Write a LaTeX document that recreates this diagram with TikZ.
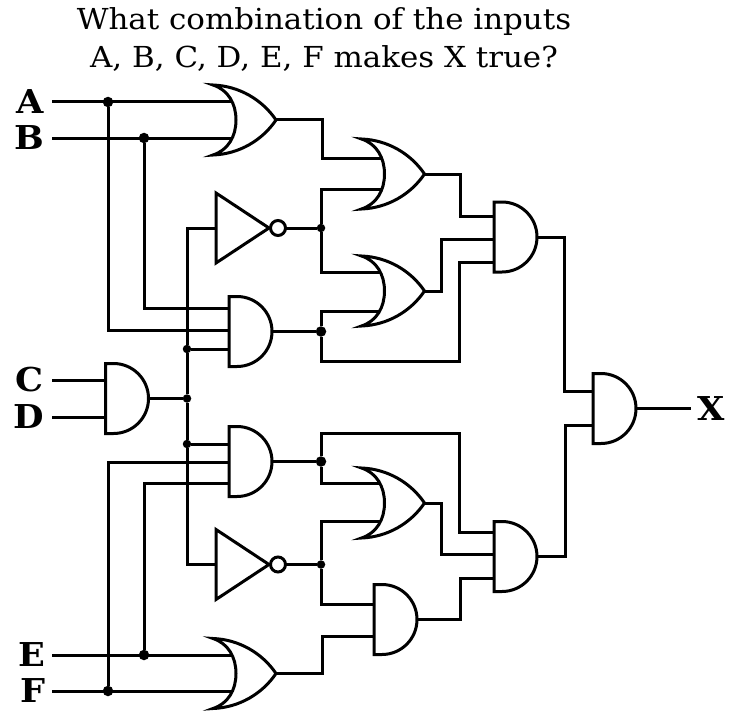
\documentclass[tikz,border=0pt]{standalone}
\usepackage{fontspec}
\setmainfont[FakeStretch=1.07]{DejaVu Serif}
\newfontfamily\labelfont[FakeStretch=1.07]{DejaVu Serif}
\usepackage{tikz}
\usetikzlibrary{backgrounds}

\tikzset{
  wire/.style={line width=3bp},
  gateline/.style={line width=3bp, fill=white},
  junction/.style={circle, fill=black, inner sep=0pt, minimum size=10.5bp},
  smalljunction/.style={circle, fill=black, inner sep=0pt, minimum size=8.5bp},
  inputlabel/.style={anchor=east, font=\labelfont\bfseries\fontsize{33}{33}\selectfont, inner xsep=8bp, inner ysep=0pt},
  andgate/.style={inner sep=0pt, outer sep=0pt, minimum width=43bp, minimum height=70bp,
    append after command={\pgfextra{
      \draw[gateline, shift={(\tikzlastnode.center)}] (-21.5,-35) -- (-13.5,-35)
        arc[start angle=90, end angle=-90, radius=35bp] -- (-21.5,35) -- cycle;
    }}},
  orgate/.style={inner sep=0pt, outer sep=0pt, minimum width=63bp, minimum height=70bp,
    append after command={\pgfextra{
      \draw[gateline, shift={(\tikzlastnode.center)}] (-31.5,-35)
        .. controls (-5,-34) and (18,-20) .. (31.5,0)
        .. controls (18,20) and (-5,34) .. (-31.5,35)
        .. controls (-16,30) and (-8.5,16) .. (-8.5,0)
        .. controls (-8.5,-16) and (-16,-30) .. (-31.5,-35) -- cycle;
    }}},
  notgate/.style={inner sep=0pt, outer sep=0pt, minimum width=70bp, minimum height=70bp,
    append after command={\pgfextra{
      \draw[gateline, shift={(\tikzlastnode.center)}] (-35,-35) -- (18,0) -- (-35,35) -- cycle;
      \draw[gateline, shift={(\tikzlastnode.center)}] (27,0) circle (7.5bp);
    }}},
}

\begin{document}
\begin{tikzpicture}[x=1bp,y=-1bp]
\useasboundingbox (0,0) rectangle (730,727);

% question
\node[font=\fontsize{29}{39}\selectfont, align=center] (title) at (324,39.5)
  {What combination of the inputs\\A, B, C, D, E, F makes X true?};

% inputs and output
\node[inputlabel] (A) at (52,102) {A};
\node[inputlabel] (B) at (52,138) {B};
\node[inputlabel] (C) at (52,380) {C};
\node[inputlabel] (D) at (52,417) {D};
\node[inputlabel, inner xsep=6bp] (E) at (52,655) {E};
\node[inputlabel, inner xsep=6bp] (F) at (52,691) {F};
\node[inputlabel, anchor=west, inner xsep=6bp] (X) at (691,408.5) {X};

% gates
\node[orgate] (orA) at (244.5,120) {};
\node[orgate] (orE) at (244.5,673.5) {};
\node[orgate] (orT) at (393,174) {};
\node[orgate] (orM) at (393,291) {};
\node[orgate] (orL) at (393,503) {};
\node[notgate] (notU) at (251,228) {};
\node[notgate] (notL) at (251,564.5) {};
\node[andgate] (andU) at (250.5,331.5) {};
\node[andgate] (andCD) at (127,398.5) {};
\node[andgate] (andL) at (250.5,461.5) {};
\node[andgate] (andS) at (395.5,619.5) {};
\node[andgate] (andT) at (515.5,237) {};
\node[andgate] (andB) at (515.5,556.5) {};
\node[andgate] (andX) at (614.5,408.5) {};

% junctions
\node[junction] (jA) at (108,102) {};
\node[junction] (jB) at (144,138) {};
\node[junction] (jE) at (144,655) {};
\node[junction] (jF) at (108,691) {};
\node[smalljunction] (jbus1) at (187,349) {};
\node[smalljunction] (jbus2) at (187,398.5) {};
\node[smalljunction] (jbus3) at (187,444) {};
\node[smalljunction] (jNU) at (321,228) {};
\node[junction] (jAU) at (321,331.5) {};
\node[junction] (jAL) at (321,461.5) {};
\node[smalljunction] (jNL) at (321,564.5) {};

\begin{scope}[on background layer]
\draw[wire] (A.east) -- (orA.center |- A.east);
\draw[wire] (B.east) -- (orA.center |- B.east);
\draw[wire] (E.east) -- (orE.center |- E.east);
\draw[wire] (F.east) -- (orE.center |- F.east);
\draw[wire] (C.east) -- (andCD.west |- C.east);
\draw[wire] (D.east) -- (andCD.west |- D.east);
\draw[wire] (andCD.east) -- (jbus2);
\draw[wire] (jB) |- (andU.west |- 0,308.5);
\draw[wire] (jA) |- (andU.west |- 0,330);
\draw[wire] (jF) |- (andL.west |- 0,462);
\draw[wire] (jE) |- (andL.west |- 0,483);
\draw[wire] (notU.west) -| (jbus1) -- (jbus2) -- (jbus3) |- (notL.west);
\draw[wire] (jbus1) -- (andU.west |- jbus1);
\draw[wire] (jbus3) -- (andL.west |- jbus3);
\draw[wire] (notU.east) -- (jNU);
\draw[wire] (notL.east) -- (jNL);
\draw[wire] (andU.east) -- (jAU);
\draw[wire] (andL.east) -- (jAL);
\draw[wire] (orA.east) -- ++(46,0) |- (orT.center |- 0,158);
\draw[wire] (jNU) |- (orT.center |- 0,189);
\draw[wire] (jNU) |- (orM.center |- 0,272);
\draw[wire] (jAU) |- (orM.center |- 0,311);
\draw[wire] (jAU) |- (459,361) |- (andT.west |- 0,262);
\draw[wire] (jAL) |- (459,433) |- (andB.west |- 0,532);
\draw[wire] (jAL) |- (orL.center |- 0,483);
\draw[wire] (jNL) |- (orL.center |- 0,521);
\draw[wire] (jNL) |- (andS.west |- 0,604);
\draw[wire] (orE.east) -- ++(46,0) |- (andS.west |- 0,636);
\draw[wire] (orT.east) -- ++(36,0) |- (andT.west |- 0,216);
\draw[wire] (orM.east) -- ++(17,0) |- (andT.west |- 0,239);
\draw[wire] (orL.east) -- ++(17,0) |- (andB.west |- 0,554);
\draw[wire] (andS.east) -- ++(43,0) |- (andB.west |- 0,578);
\draw[wire] (andT.east) -- ++(27,0) |- (andX.west |- 0,391);
\draw[wire] (andB.east) -- ++(28,0) |- (andX.west |- 0,425);
\draw[wire] (andX.east) -- (X.west);
\end{scope}
\end{tikzpicture}
\end{document}
